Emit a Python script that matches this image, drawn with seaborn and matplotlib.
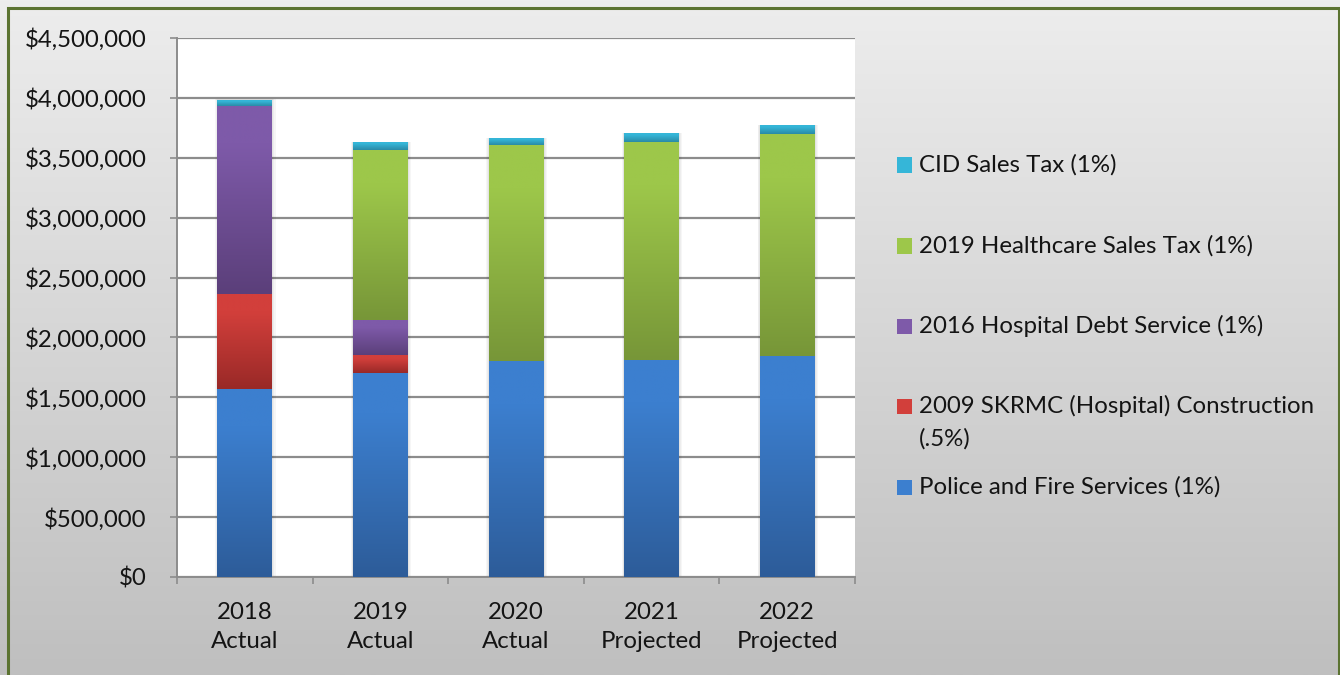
import numpy as np
import pandas as pd
import matplotlib
matplotlib.use("Agg")
import matplotlib.pyplot as plt
import seaborn as sns
from matplotlib.colors import to_rgb
from matplotlib.patches import Rectangle
from matplotlib.ticker import FuncFormatter, FixedLocator

# ---- data -------------------------------------------------------------
periods = ["2018\nActual", "2019\nActual", "2020\nActual", "2021\nProjected", "2022\nProjected"]

police_fire = [1569000, 1703000, 1803000, 1814000, 1847000]
skrmc_construction = [796000, 150000, 0, 0, 0]
hospital_debt = [1569000, 292000, 0, 0, 0]
healthcare_tax = [0, 1419000, 1803000, 1817000, 1851000]
cid_tax = [48000, 59000, 58000, 75000, 67000]

series_names = [
    "Police and Fire Services (1%)",
    "2009 SKRMC (Hospital) Construction\n(.5%)",
    "2016 Hospital Debt Service (1%)",
    "2019 Healthcare Sales Tax (1%)",
    "CID Sales Tax (1%)",
]
series_values = [police_fire, skrmc_construction, hospital_debt, healthcare_tax, cid_tax]
# (top colour, bottom colour) of each segment's vertical gradient
series_colors = [
    ("#3c7fcf", "#2d5c99"),
    ("#d23f3b", "#992927"),
    ("#7e5aa9", "#5b3f7a"),
    ("#9dc74a", "#779638"),
    ("#35b6d8", "#2a8aa6"),
]

# ---- figure -----------------------------------------------------------
sns.set_theme(style="white")
plt.rcParams["font.family"] = ["Lato", "DejaVu Sans"]
TXT = "#141414"
FS = 17.3

W, H = 1340, 675
fig = plt.figure(figsize=(W / 100, H / 100), dpi=100)

# grey gradient backdrop
bg = fig.add_axes([0, 0, 1, 1], zorder=-10)
grad = np.linspace(0, 1, 256)[:, None]
c_top, c_bot = np.array(to_rgb("#ededed")), np.array(to_rgb("#bfbfbf"))
bg.imshow(c_top + (c_bot - c_top) * grad[..., None], aspect="auto", extent=[0, 1, 0, 1])
bg.set_axis_off()

# outer frame
fig.patches.append(Rectangle((7.5 / W, -0.02), (1338.5 - 7.5) / W, 1.02 - 7.5 / H,
                             transform=fig.transFigure, fill=False,
                             edgecolor="#5b7331", linewidth=2.2, zorder=5))

left, right, top, bottom = 177, 855, 38, 577
ax = fig.add_axes([left / W, (H - bottom) / H, (right - left) / W, (bottom - top) / H])
ax.set_facecolor("white")

bar_width = 0.405
cum = np.zeros(len(periods))
segment_patches = []
for name, vals, (ctop, cbot) in zip(series_names, series_values, series_colors):
    df = pd.DataFrame({"period": periods, "value": vals})
    n_before = len(ax.patches)
    sns.barplot(data=df, x="period", y="value", bottom=cum.copy(), color=ctop,
                width=bar_width, saturation=1, linewidth=0, ax=ax, zorder=3)
    segment_patches.append((ax.patches[n_before:], ctop, cbot))
    cum += np.array(vals)

# soft shadow behind each stacked column
x0_list = [p.get_x() for p in segment_patches[0][0]]
for x0, total in zip(x0_list, cum):
    for k, a in zip([0.04, 0.026, 0.013], [0.035, 0.035, 0.04]):
        ax.add_patch(Rectangle((x0 - k * 0.4, 0), bar_width + k, total + 5000,
                               facecolor="black", alpha=a, linewidth=0, zorder=2))

# vertical gradient fill for every segment
ramp = np.linspace(0, 1, 200)
ramp = np.clip((ramp - 0.2) / 0.8, 0, 1)[:, None]
for patches, ctop, cbot in segment_patches:
    a, b = np.array(to_rgb(ctop)), np.array(to_rgb(cbot))
    img = a + (b - a) * ramp[..., None]
    for p in patches:
        h = p.get_height()
        if h <= 0:
            continue
        x, y, w = p.get_x(), p.get_y(), p.get_width()
        ax.imshow(img, aspect="auto", extent=[x, x + w, y, y + h],
                  origin="upper", zorder=4, interpolation="bilinear")

ax.set_xlim(-0.5, len(periods) - 0.5)
ax.set_ylim(0, 4500000)

# axes styling
grid_c = "#8c8c8c"
ax.yaxis.set_major_locator(FixedLocator(np.arange(0, 4500001, 500000)))
ax.yaxis.set_major_formatter(FuncFormatter(lambda v, _: f"${v:,.0f}"))
ax.grid(axis="y", color=grid_c, linewidth=1.6, zorder=1)
ax.set_axisbelow(True)
for s in ["top", "right"]:
    ax.spines[s].set_visible(False)
for s in ["left", "bottom"]:
    ax.spines[s].set_color(grid_c)
    ax.spines[s].set_linewidth(1.4)

ax.tick_params(axis="y", which="major", left=True, length=5, width=1.2, color=grid_c,
               pad=17, labelsize=FS, labelcolor=TXT)
ax.set_xticks(np.arange(-0.5, len(periods)), minor=False)
ax.set_xticklabels([""] * (len(periods) + 1))
ax.set_xticks(np.arange(len(periods)), minor=True)
ax.set_xticklabels(periods, minor=True, fontsize=FS, color=TXT, linespacing=1.5)
ax.tick_params(axis="x", which="major", bottom=True, length=5, width=1.2, color=grid_c)
ax.tick_params(axis="x", which="minor", bottom=False, length=0, pad=18)
ax.set_xlabel("")
ax.set_ylabel("")

# legend on the right, top entry first
legend_rows = [
    (165, "CID Sales Tax (1%)", series_colors[4]),
    (246, "2019 Healthcare Sales Tax (1%)", series_colors[3]),
    (326, "2016 Hospital Debt Service (1%)", series_colors[2]),
    (406, "2009 SKRMC (Hospital) Construction\n(.5%)", series_colors[1]),
    (487, "Police and Fire Services (1%)", series_colors[0]),
]
sq = 15
for yc, label, (ctop, cbot) in legend_rows:
    fig.patches.append(Rectangle((897 / W, (H - yc - sq / 2) / H), sq / W, sq / H,
                                 transform=fig.transFigure, facecolor=ctop,
                                 edgecolor="none", zorder=6))
    lines = label.split("\n")
    for i, line in enumerate(lines):
        fig.text(919 / W, (H - yc - 33 * i) / H, line, ha="left", va="center",
                 fontsize=FS, color=TXT)

fig.savefig("out.png", dpi=100)
